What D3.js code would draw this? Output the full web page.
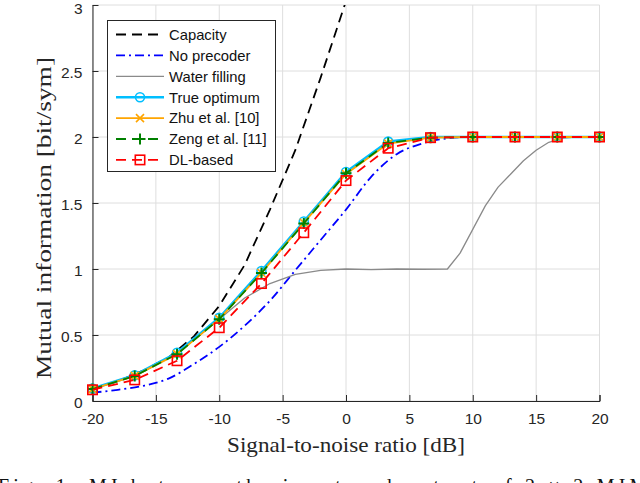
<!DOCTYPE html>
<html lang="en">

<head>
    <meta charset="UTF-8" />
    <script src="https://d3js.org/d3.v7.min.js"></script>
    <title>Mutual information</title>
    <style>
        body { margin: 0; background: #fff; }
        svg { display: block; }
    </style>
</head>

<body>
    <script>
        const width = 640,
            height = 483

        // data
        const snr = [-20, -16.67, -13.33, -10, -6.67, -3.33, 0, 3.33, 6.67, 10, 13.33, 16.67, 20]
        const trueOpt = [0.095, 0.195, 0.365, 0.63, 0.985, 1.36, 1.735, 1.965, 2.0, 2.0, 2.0, 2.0, 2.0]
        const zhu = [0.09, 0.19, 0.355, 0.62, 0.97, 1.35, 1.72, 1.95, 1.995, 2.0, 2.0, 2.0, 2.0]
        const zeng = [0.09, 0.19, 0.355, 0.62, 0.97, 1.345, 1.725, 1.955, 1.995, 2.0, 2.0, 2.0, 2.0]
        const dlBased = [0.085, 0.16, 0.305, 0.555, 0.89, 1.275, 1.67, 1.915, 1.995, 2.0, 2.0, 2.0, 2.0]

        const snrFine = [-20, -18, -16, -14, -12, -10, -8, -6, -4, -2, 0, 2, 4, 6, 8, 10, 12, 14, 16, 18, 20]
        const capacity = [0.09, 0.15, 0.23, 0.33, 0.49, 0.72, 1.03, 1.45, 1.9, 2.45, 3.03, 3.6, 4.2, 4.8, 5.4, 6.0, 6.6, 7.2, 7.8, 8.4, 9.0]
        const noPrecoder = [0.063, 0.085, 0.115, 0.17, 0.28, 0.41, 0.57, 0.76, 0.99, 1.22, 1.45, 1.70, 1.87, 1.95, 1.99, 2.0, 2.0, 2.0, 2.0, 2.0, 2.0]

        const snrWf = [-20, -16.67, -13.33, -10, -8, -6, -4, -2, 0, 2, 4, 6, 8, 9, 10, 11, 12, 13, 14, 15, 16, 17, 18, 20]
        const waterFilling = [0.09, 0.19, 0.36, 0.62, 0.78, 0.89, 0.96, 0.99, 1.0, 0.995, 1.0, 0.998, 1.0, 1.12, 1.3, 1.48, 1.62, 1.72, 1.82, 1.9, 1.96, 1.99, 2.0, 2.0]

        const xTicks = [-20, -15, -10, -5, 0, 5, 10, 15, 20]
        const xTickLabels = ['-20', '-15', '-10', '-5', '0', '5', '10', '15', '20']
        const yTicks = [0, 0.5, 1, 1.5, 2, 2.5, 3]
        const yTickLabels = ['0', '0.5', '1', '1.5', '2', '2.5', '3']
        const legendNames = ['Capacity', 'No precoder', 'Water filling', 'True optimum', 'Zhu et al. [10]', 'Zeng et al. [11]', 'DL-based']

        const axisColor = '#262626'

        const svg = d3.select('body').append('svg').attr('width', width).attr('height', height)
        svg.append('rect').attr('width', width).attr('height', height).attr('fill', '#fff')

        const x = d3.scaleLinear().domain([-20, 20]).range([92.5, 599.5])
        const y = d3.scaleLinear().domain([0, 3]).range([401, 5])

        svg.append('defs').append('clipPath').attr('id', 'clip')
            .append('rect').attr('x', x(-20)).attr('y', y(3)).attr('width', x(20) - x(-20)).attr('height', y(0) - y(3))

        // grid
        const grid = svg.append('g').attr('stroke', '#dedede').attr('stroke-width', 1)
        grid.selectAll('.gx').data(xTicks).enter().append('line')
            .attr('x1', d => x(d)).attr('x2', d => x(d)).attr('y1', y(0)).attr('y2', y(3))
        grid.selectAll('.gy').data(yTicks).enter().append('line')
            .attr('x1', x(-20)).attr('x2', x(20)).attr('y1', d => y(d)).attr('y2', d => y(d))

        // axes (matlab style, ticks inside)
        const xAxis = svg.append('g').attr('transform', `translate(0,${y(0)})`)
            .call(d3.axisBottom(x).tickValues(xTicks).tickFormat((d, i) => xTickLabels[i])
                .tickSizeInner(-6).tickSizeOuter(-6).tickPadding(12))
        const yAxis = svg.append('g').attr('transform', `translate(${x(-20)},0)`)
            .call(d3.axisLeft(y).tickValues(yTicks).tickFormat((d, i) => yTickLabels[i])
                .tickSizeInner(-6).tickSizeOuter(0).tickPadding(10))
        for (const ax of [xAxis, yAxis]) {
            ax.select('.domain').attr('stroke', axisColor)
            ax.selectAll('.tick line').attr('stroke', axisColor)
            ax.selectAll('.tick text').attr('fill', axisColor)
                .style('font-family', '"Liberation Sans", Arial, sans-serif').style('font-size', '15.5px')
        }
        xAxis.selectAll('.tick text').attr('dy', '0.74em')
        yAxis.selectAll('.tick text').attr('dy', d => d === 3 ? '0.55em' : '0.4em')

        // axis labels
        svg.append('text').attr('x', x(0)).attr('y', 452).attr('text-anchor', 'middle')
            .attr('textLength', 238).attr('lengthAdjust', 'spacingAndGlyphs')
            .style('font-family', '"Liberation Serif", "Times New Roman", serif').style('font-size', '21px')
            .attr('fill', axisColor).text('Signal-to-noise ratio [dB]')
        svg.append('text').attr('transform', 'translate(51,218) rotate(-90)').attr('text-anchor', 'middle')
            .attr('textLength', 322).attr('lengthAdjust', 'spacingAndGlyphs')
            .style('font-family', '"Liberation Serif", "Times New Roman", serif').style('font-size', '20px')
            .attr('fill', axisColor).text('Mutual information [bit/sym]')

        // caption (cut off at the bottom of the picture, as in the source figure)
        svg.append('text').attr('x', -2).attr('y', 493)
            .attr('textLength', 668).attr('lengthAdjust', 'spacing')
            .style('font-family', '"Liberation Serif", "Times New Roman", serif').style('font-size', '20px')
            .attr('fill', '#111').text('Fig. 1:  MI between the input and output of 2 × 2 MIMO')

        // series
        const series = [
            { name: legendNames[0], xs: snrFine, ys: capacity, color: '#000', width: 1.8, dash: '10,6', marker: null },
            { name: legendNames[1], xs: snrFine, ys: noPrecoder, color: '#0000ff', width: 1.8, dash: '9,4,2,4', marker: null, smooth: true },
            { name: legendNames[2], xs: snrWf, ys: waterFilling, color: '#8a8a8a', width: 1.3, dash: null, marker: null },
            { name: legendNames[3], xs: snr, ys: trueOpt, color: '#00bfff', width: 2.6, dash: null, marker: 'circle' },
            { name: legendNames[4], xs: snr, ys: zhu, color: '#ffa500', width: 1.8, dash: null, marker: 'x' },
            { name: legendNames[5], xs: snr, ys: zeng, color: '#008000', width: 1.8, dash: '10,6', marker: 'plus' },
            { name: legendNames[6], xs: snr, ys: dlBased, color: '#ff0000', width: 1.8, dash: '10,6', marker: 'square' }
        ]

        function drawMarker(g, type, color) {
            if (type === 'circle') {
                g.append('circle').attr('r', 4.5).attr('fill', 'none').attr('stroke', color).attr('stroke-width', 1.6)
            } else if (type === 'x') {
                g.append('path').attr('d', 'M-4,-4L4,4M-4,4L4,-4').attr('stroke', color).attr('stroke-width', 1.6)
            } else if (type === 'plus') {
                g.append('path').attr('d', 'M-5.5,0L5.5,0M0,-5.5L0,5.5').attr('stroke', color).attr('stroke-width', 2)
            } else if (type === 'square') {
                g.append('rect').attr('x', -4.7).attr('y', -4.7).attr('width', 9.4).attr('height', 9.4)
                    .attr('fill', 'none').attr('stroke', color).attr('stroke-width', 1.6)
            }
        }

        const plot = svg.append('g')
        series.forEach(s => {
            const pts = s.xs.map((v, i) => [v, s.ys[i]])
            const line = d3.line().x(d => x(d[0])).y(d => y(d[1]))
                .curve(s.smooth ? d3.curveMonotoneX : d3.curveLinear)
            plot.append('path').datum(pts).attr('clip-path', 'url(#clip)')
                .attr('d', line).attr('fill', 'none').attr('stroke', s.color)
                .attr('stroke-width', s.width).attr('stroke-dasharray', s.dash)
                .attr('stroke-linejoin', 'round')
            if (s.marker) {
                plot.append('g').selectAll('g').data(pts).enter().append('g')
                    .attr('transform', d => `translate(${x(d[0])},${y(d[1])})`)
                    .each(function () { drawMarker(d3.select(this), s.marker, s.color) })
            }
        })

        // legend
        const lg = svg.append('g')
        lg.append('rect').attr('x', 107.5).attr('y', 20.5).attr('width', 168).attr('height', 151)
            .attr('fill', '#fff').attr('stroke', axisColor).attr('stroke-width', 1)
        series.forEach((s, i) => {
            const cy = 34.5 + i * 20.9
            lg.append('line').attr('x1', 116).attr('x2', 164).attr('y1', cy).attr('y2', cy)
                .attr('stroke', s.color).attr('stroke-width', s.width).attr('stroke-dasharray', s.dash)
            if (s.marker) drawMarker(lg.append('g').attr('transform', `translate(140,${cy})`), s.marker, s.color)
            lg.append('text').attr('x', 169).attr('y', cy + 5.3)
                .style('font-family', '"Liberation Sans", Arial, sans-serif').style('font-size', '14.8px')
                .attr('fill', '#111').text(s.name)
        })
    </script>
</body>

</html>
